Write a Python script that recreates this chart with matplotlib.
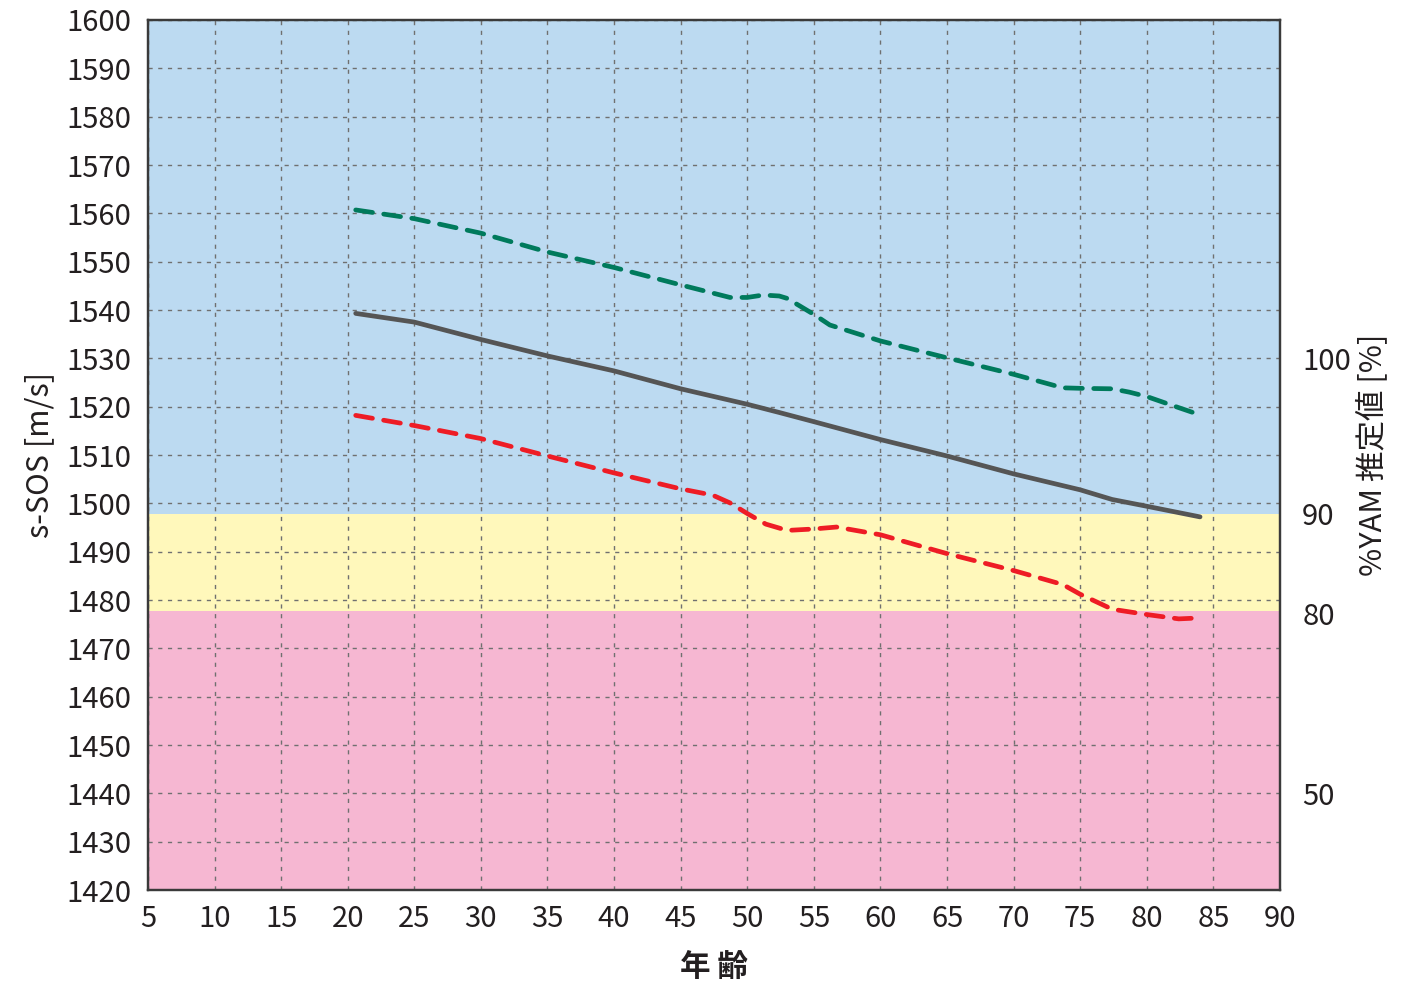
import numpy as np
import matplotlib.pyplot as plt

plt.rcParams['font.family'] = ['Noto Sans CJK JP', 'DejaVu Sans']

# age vs s-SOS
age_mean = [20.6, 25, 30, 35, 40, 45, 50, 52.4, 55, 60, 65, 70, 75, 77.4, 80, 84]
sos_mean = [1539.3, 1537.5, 1533.9, 1530.5, 1527.4, 1523.7, 1520.5, 1518.8, 1516.9,
            1513.2, 1509.8, 1506.1, 1502.8, 1500.8, 1499.4, 1497.2]

age_upper = [20.6, 25, 30, 35, 40, 45, 48.7, 50, 51.2, 52.4, 53, 55, 56.2, 60, 65, 70,
             73.7, 75, 77.4, 78.7, 80, 82.4, 84]
sos_upper = [1560.7, 1558.9, 1555.9, 1552.0, 1548.8, 1545.2, 1542.6, 1542.6, 1543.1,
             1542.9, 1542.4, 1539.1, 1536.9, 1533.6, 1530.1, 1526.7, 1523.9, 1523.8,
             1523.7, 1523.0, 1522.1, 1519.8, 1518.3]

age_lower = [20.6, 25, 30, 35, 40, 45, 47.4, 48.7, 50, 51.4, 53, 55, 56.7, 60, 65, 70,
             73.7, 75, 77.4, 80, 82.4, 84]
sos_lower = [1518.2, 1516.1, 1513.4, 1509.8, 1506.3, 1503.0, 1501.7, 1500.1, 1497.9,
             1495.7, 1494.4, 1494.7, 1495.1, 1493.5, 1489.6, 1486.1, 1483.2, 1481.2,
             1478.1, 1477.0, 1476.1, 1476.3]

# %YAM bands (s-SOS values)
band_90 = 1497.8
band_80 = 1477.7
yam_ticks = [1530, 1497.8, 1477.3, 1440]
yam_labels = ['100', '90', '80', '50']

fig = plt.figure(figsize=(14.05, 9.85), dpi=100)
ax = fig.add_axes([0.1053, 0.0964, 0.8057, 0.8833])

ax.axhspan(band_90, 1600, color='#bcdaf1', lw=0, zorder=0)
ax.axhspan(band_80, band_90, color='#fff8bb', lw=0, zorder=0)
ax.axhspan(1420, band_80, color='#f6b7d2', lw=0, zorder=0)

ax.set_xlim(5, 90)
ax.set_ylim(1420, 1600)
ax.set_xticks(np.arange(5, 91, 5))
ax.set_yticks(np.arange(1420, 1601, 10))
ax.grid(True, color='#707070', linestyle=(0, (3, 4)), linewidth=1.0, zorder=1)

ax.plot(age_upper, sos_upper, color='#007a5c', lw=3.4, linestyle=(0, (3.6, 2.4)),
        dash_capstyle='round', zorder=3)
ax.plot(age_mean, sos_mean, color='#555555', lw=3.4, solid_capstyle='round', zorder=3)
ax.plot(age_lower, sos_lower, color='#ee1c25', lw=3.4, linestyle=(0, (3.6, 2.4)),
        dash_capstyle='round', zorder=3)

for s in ax.spines.values():
    s.set_color('#3a3a3a')
    s.set_linewidth(1.6)

ax.tick_params(axis='both', length=0, labelsize=21, colors='#231f20')
ax.tick_params(axis='x', pad=10)
ax.tick_params(axis='y', pad=12)
ax.set_ylabel('s-SOS [m/s]', fontsize=22, color='#231f20', labelpad=8)
ax.set_xlabel('年 齢', fontsize=22, fontweight='bold', color='#231f20', labelpad=12)

ax2 = ax.twinx()
ax2.set_ylim(1420, 1600)
ax2.set_yticks(yam_ticks)
ax2.set_yticklabels(yam_labels)
ax2.tick_params(axis='y', length=0, labelsize=21, colors='#231f20', pad=16)
ax2.set_ylabel('%YAM 推定値 [%]', fontsize=22, color='#231f20', labelpad=4)
for s in ax2.spines.values():
    s.set_color('#3a3a3a')
    s.set_linewidth(1.6)

fig.savefig('out.png', dpi=100)
